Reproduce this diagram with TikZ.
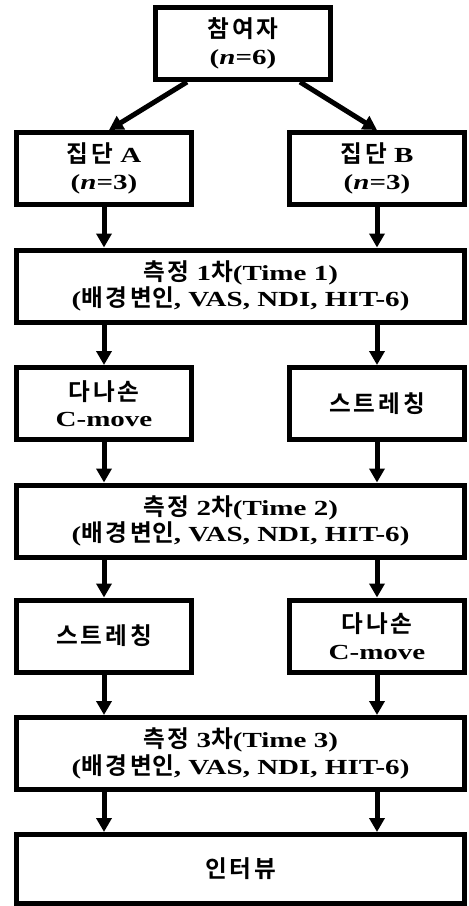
\documentclass[tikz,border=0pt]{standalone}
\usepackage{fontspec}
\setmainfont{Liberation Serif}[FakeStretch=1.35]
\newfontfamily\kr{Noto Sans CJK KR}[BoldFont={Noto Sans CJK KR Bold},Scale=1.1,LetterSpace=12]
\newfontfamily\krn{Noto Sans CJK KR}[BoldFont={Noto Sans CJK KR Bold},Scale=1.1]
\usetikzlibrary{arrows.meta,calc}
\begin{document}
\begin{tikzpicture}[x=1pt,y=-1pt,
  box/.style={draw, line width=5pt, minimum width=175pt, minimum height=72pt, inner sep=0pt, align=center, font=\fontsize{21.5}{26.5}\selectfont\bfseries},
  wide/.style={box, minimum width=448pt},
  arr/.style={line width=5pt, -{Triangle[width=15pt,length=14pt]}}]
\useasboundingbox (0,0) rectangle (469,906);
\node[box] (P) at (243,43.5) {{\kr 참여자}\\(\textit{n}=6)};
\node[box] (A) at (104,168.5) {{\kr 집단} A\\(\textit{n}=3)};
\node[box] (B) at (377,168.5) {{\kr 집단} B\\(\textit{n}=3)};
\node[wide] (M1) at (240.5,286) {{\kr 측정} 1{\krn 차}(Time 1)\\({\kr 배경변}{\krn 인}, VAS, NDI, HIT-6)};
\node[box] (C1) at (104,403.5) {{\kr 다나손}\\C-move};
\node[box] (S1) at (377,403.5) {{\kr 스트레칭}};
\node[wide] (M2) at (240.5,521) {{\kr 측정} 2{\krn 차}(Time 2)\\({\kr 배경변}{\krn 인}, VAS, NDI, HIT-6)};
\node[box] (S2) at (104,636) {{\kr 스트레칭}};
\node[box] (C2) at (377,636) {{\kr 다나손}\\C-move};
\node[wide] (M3) at (240.5,753.5) {{\kr 측정} 3{\krn 차}(Time 3)\\({\kr 배경변}{\krn 인}, VAS, NDI, HIT-6)};
\node[wide, minimum height=69pt] (I) at (240.5,869) {{\kr 인터뷰}};
\draw[arr] ($(P.south)+(-56,0)$) -- ($(A.north)+(5,0)$);
\draw[arr] ($(P.south)+(57,0)$) -- (B.north);
\draw[arr] (A.south) -- (A.south |- M1.north);
\draw[arr] (B.south) -- (B.south |- M1.north);
\draw[arr] (M1.south -| C1.north) -- (C1.north);
\draw[arr] (M1.south -| S1.north) -- (S1.north);
\draw[arr] (C1.south) -- (C1.south |- M2.north);
\draw[arr] (S1.south) -- (S1.south |- M2.north);
\draw[arr] (M2.south -| S2.north) -- (S2.north);
\draw[arr] (M2.south -| C2.north) -- (C2.north);
\draw[arr] (S2.south) -- (S2.south |- M3.north);
\draw[arr] (C2.south) -- (C2.south |- M3.north);
\draw[arr] (M3.south -| S2.north) -- (S2.north |- I.north);
\draw[arr] (M3.south -| C2.north) -- (C2.north |- I.north);
\end{tikzpicture}
\end{document}
